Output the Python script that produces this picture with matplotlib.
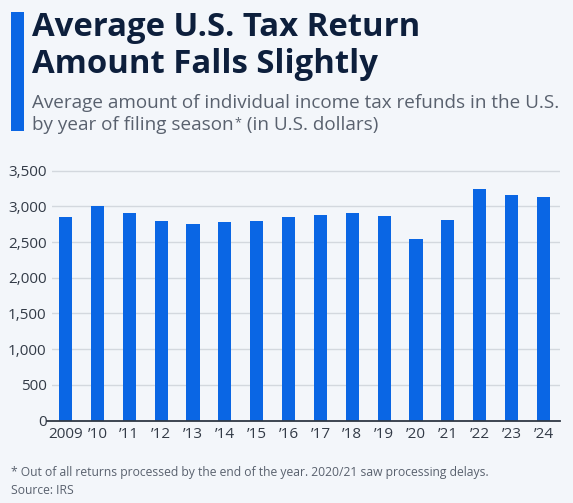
import matplotlib.pyplot as plt
from matplotlib.patches import Rectangle

years = ["2009", "\u201910", "\u201911", "\u201912", "\u201913", "\u201914", "\u201915", "\u201916",
         "\u201917", "\u201918", "\u201919", "\u201920", "\u201921", "\u201922", "\u201923", "\u201924"]
refunds = [2853, 3000, 2909, 2797, 2750, 2787, 2789, 2853,
           2881, 2903, 2861, 2539, 2805, 3245, 3165, 3137]
yticks = [0, 500, 1000, 1500, 2000, 2500, 3000, 3500]

bg = "#f3f6fa"
blue = "#0a66e4"
navy = "#0d1f3c"
grey = "#59616e"

plt.rcParams["font.family"] = ["Open Sans", "DejaVu Sans"]

W, H = 573, 503
fig = plt.figure(figsize=(W / 100, H / 100), dpi=100, facecolor=bg)
ax = fig.add_axes([52 / W, (H - 420.5) / H, 508 / W, (420.5 - 163.6) / H])

# left accent bar
fig.add_artist(Rectangle((11 / W, 1 - 131 / H), 13 / W, 119 / H,
                         transform=fig.transFigure, color=blue, lw=0))

fig.text(32 / W, 1 - 36 / H, "Average U.S. Tax Return", fontsize=23.7,
         fontweight="bold", color=navy, va="baseline")
fig.text(32 / W, 1 - 73 / H, "Amount Falls Slightly", fontsize=23.7,
         fontweight="bold", color=navy, va="baseline")
fig.text(32 / W, 1 - 108 / H, "Average amount of individual income tax refunds in the U.S.",
         fontsize=13.6, color=grey, va="baseline")
t1 = fig.text(32 / W, 1 - 130 / H, "by year of filing season", fontsize=13.6,
              color=grey, va="baseline")
star = ax.annotate("*", xy=(1, 1), xycoords=t1, xytext=(0.5, 0), textcoords="offset points",
                   fontsize=9, color=grey, va="top", ha="left", annotation_clip=False)
ax.annotate(" (in U.S. dollars)", xy=(1, 0), xycoords=t1, xytext=(6, 0),
            textcoords="offset points", fontsize=13.6, color=grey, va="bottom",
            ha="left", annotation_clip=False)

ax.set_facecolor(bg)
x = list(range(len(years)))
ax.bar(x, refunds, width=0.41, color=blue, zorder=3)
ax.set_xlim(-0.424, 15.518)
ax.set_ylim(0, 3600)
ax.set_xticks(x)
ax.set_xticklabels(years)
ax.set_yticks(yticks)
ax.set_yticklabels([f"{v:,}" for v in yticks])
ax.tick_params(axis="both", length=0, labelsize=11, labelcolor="#333b47")
ax.tick_params(axis="y", pad=4)
ax.tick_params(axis="x", pad=5)
for s in ax.spines.values():
    s.set_visible(False)
ax.yaxis.grid(True, color="#d3d8de", lw=1)
ax.set_axisbelow(True)
ax.axhline(0, xmin=-5 / 508, xmax=1, color="#2f3844", lw=1.3, clip_on=False, zorder=4)

fig.text(11 / W, 1 - 475.7 / H,
         "* Out of all returns processed by the end of the year. 2020/21 saw processing delays.",
         fontsize=8.7, color=grey, va="baseline")
fig.text(11 / W, 1 - 493.7 / H, "Source: IRS", fontsize=8.7, color=grey, va="baseline")

fig.savefig("out.png", dpi=100, facecolor=bg)
